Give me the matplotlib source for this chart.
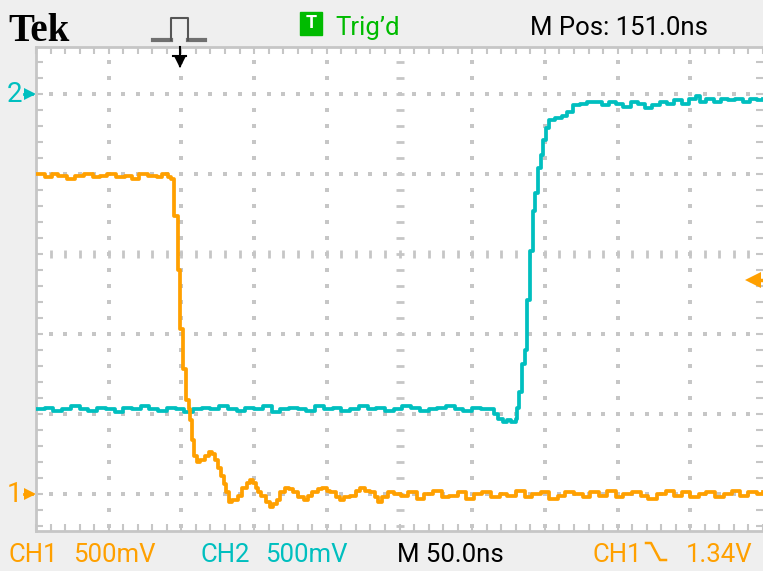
import numpy as np
import matplotlib
matplotlib.use("Agg")
import matplotlib.pyplot as plt
from matplotlib.patches import Rectangle
from matplotlib.lines import Line2D

# scope settings
time_per_div = 50.0   # ns / div
m_pos = 151.0         # ns at screen centre
ch1_scale = 0.5       # V / div
ch2_scale = 0.5
ch1_ground = -3.0     # div from centre line
ch2_ground = 2.0
trig_level = 1.34     # V, CH1 falling edge

# CH1 (orange), time in ns, volts
ch1_t = [-99, -93, -88, -84, -78, -72, -66, -60, -55, -50, -44, -38, -33, -28, -22, -16, -12, -8, -6,
         -4, -2, -1, 0, 2, 4, 6, 7, 8, 10,
         12, 14, 17, 20, 22, 24, 26, 28, 30, 32, 34, 36, 38, 40, 43, 46, 48, 50, 52, 54,
         56, 59, 62, 64, 67, 69, 72, 75, 78, 81, 85, 88, 91, 95, 98, 101, 103, 107, 110, 113,
         117, 121, 124, 127, 131, 134, 136, 139, 143, 147,
         152, 157, 163, 168, 174, 180, 185, 191, 197, 202, 208, 214, 220, 225, 231, 237, 242, 248, 254, 260,
         265, 271, 277, 282, 288, 294, 300, 305, 311, 317, 322, 328, 334, 340, 345, 351, 357, 362, 368, 374,
         380, 385, 391, 397, 401]
ch1_v = [2.00, 1.98, 2.00, 1.99, 1.97, 1.99, 2.00, 1.98, 1.99, 2.00, 1.98, 1.99, 1.97, 2.00, 1.99, 1.98, 2.00, 1.98, 1.97,
         1.74, 1.74, 1.40, 1.03, 0.78, 0.59, 0.53, 0.46, 0.34, 0.24,
         0.20, 0.21, 0.24, 0.26, 0.25, 0.21, 0.16, 0.11, 0.06, 0.01, -0.05, -0.04, -0.04, -0.01, 0.04, 0.07, 0.09, 0.07, 0.04, 0.01,
         -0.01, -0.05, -0.08, -0.06, -0.04, 0.01, 0.04, 0.03, 0.01, -0.02, -0.04, -0.01, 0.01, 0.03, 0.04, 0.02, 0.01, -0.02, -0.04, -0.02,
         -0.01, 0.02, 0.04, 0.02, 0.01, -0.02, -0.05, -0.02, 0.01, 0.00,
         -0.01, 0.01, -0.03, 0.00, 0.02, -0.02, -0.01, 0.01, -0.03, 0.00, 0.01, -0.02, 0.00, -0.01, 0.02, -0.02, 0.00, 0.01, -0.03, -0.01,
         0.01, 0.00, -0.02, 0.01, -0.01, 0.02, -0.02, 0.00, 0.01, -0.01, -0.03, 0.00, 0.02, -0.01, 0.01, -0.02, 0.00, 0.01, -0.02, 0.00,
         0.02, -0.01, 0.01, 0.00, 0.01]

# CH2 (cyan)
ch2_t = [-99, -93, -87, -81, -75, -69, -63, -57, -51, -45, -39, -33, -27, -21, -15, -9, -3, 3, 9, 15,
         21, 27, 33, 39, 45, 51, 57, 63, 69, 75, 81, 87, 93, 99, 105, 111, 117, 123, 129, 135,
         141, 147, 153, 159, 165, 171, 177, 183, 189, 195, 201, 207, 213,
         216, 219, 222, 225, 228, 231,
         232, 233, 235, 237, 239, 241, 243, 244, 246, 248, 250, 252, 254, 258, 263, 266, 270, 275, 280,
         285, 290, 295, 300, 305, 310, 315, 320, 325, 330, 335, 340, 345, 350, 355, 358, 362, 367, 372, 377,
         382, 387, 392, 397, 401]
ch2_v = [-1.97, -1.96, -1.98, -1.97, -1.95, -1.97, -1.98, -1.96, -1.97, -1.99,
         -1.96, -1.97, -1.95, -1.97, -1.98, -1.96, -1.97, -1.99, -1.97, -1.96,
         -1.97, -1.95, -1.97, -1.98, -1.96, -1.97, -1.95, -1.99, -1.97, -1.96,
         -1.97, -1.98, -1.95, -1.97, -1.96, -1.98, -1.97, -1.95, -1.97, -1.96,
         -1.98, -1.97, -1.95, -1.96, -1.98, -1.97, -1.96, -1.95, -1.97, -1.98,
         -1.96, -1.97, -1.97,
         -2.00, -2.03, -2.05, -2.04, -2.05, -2.03,
         -1.96, -1.86, -1.69, -1.60, -1.29, -0.98, -0.73, -0.62, -0.46, -0.38, -0.29, -0.21, -0.16, -0.15, -0.14, -0.11, -0.07, -0.06, -0.05,
         -0.05, -0.07, -0.05, -0.06, -0.08, -0.05, -0.06, -0.09, -0.07, -0.05, -0.06, -0.04, -0.06, -0.03, -0.01, -0.05, -0.03, -0.05, -0.03, -0.04,
         -0.03, -0.05, -0.03, -0.04, -0.03]

ORANGE = "#ffa000"
CYAN = "#00bfbf"
GREEN = "#00bb00"
GRID = "#c6c6c6"
PANEL = "#efefef"
FONT = ["Roboto", "DejaVu Sans"]
FS = 18.5

W, H = 763, 571


def fx(px):
    return px / W


def fy(py):
    return 1 - py / H


def t_to_div(t):
    return (np.asarray(t) - (m_pos - 5 * time_per_div)) / time_per_div


fig = plt.figure(figsize=(W / 100, H / 100), dpi=100, facecolor=PANEL)
ax = fig.add_axes([fx(36), fy(531), fx(763) - fx(36), fy(47) - fy(531)])
ax.set_facecolor("white")
ax.set_xlim(0, 10)
ax.set_ylim(-3.4625, 2.5875)

# border ticks every 0.2 div
ax.set_xticks(np.round(np.arange(0, 51) * 0.2, 1))
ax.set_yticks(np.round(np.arange(-17, 13) * 0.2, 1))
ax.tick_params(axis="both", which="both", direction="in", length=5, width=1.5, color=GRID,
               top=True, right=True, labelbottom=False, labelleft=False)
for s in ["left", "top", "bottom"]:
    ax.spines[s].set_color(GRID)
    ax.spines[s].set_linewidth(2)
ax.spines["right"].set_visible(False)

# dotted graticule
xs = np.round(np.arange(1, 50) * 0.2, 1)
ys = np.round(np.arange(-17, 13) * 0.2, 1)
for r in [-3, -2, -1, 1, 2]:
    ax.plot(xs, np.full(len(xs), r), ls="none", marker="s", ms=2.2, mew=0, color=GRID)
for c in [1, 2, 3, 4, 6, 7, 8, 9]:
    ax.plot(np.full(len(ys), c), ys, ls="none", marker="s", ms=2.2, mew=0, color=GRID)
ax.plot(np.full(len(ys), 5), ys, ls="none", marker="_", ms=6, mew=2, color=GRID)
ax.plot(xs, np.zeros(len(xs)), ls="none", marker="|", ms=6, mew=2, color=GRID)

# traces
ax.plot(t_to_div(ch2_t), np.asarray(ch2_v) / ch2_scale + ch2_ground, color=CYAN, lw=2.7,
        drawstyle="steps-post", zorder=5)
ax.plot(t_to_div(ch1_t), np.asarray(ch1_v) / ch1_scale + ch1_ground, color=ORANGE, lw=2.7,
        drawstyle="steps-post", zorder=6)

# ground markers on the left
for lvl, col, name in [(ch2_ground, CYAN, "2"), (ch1_ground, ORANGE, "1")]:
    ax.plot([-0.17, -0.06], [lvl, lvl], color=col, lw=2, clip_on=False)
    ax.plot([-0.08], [lvl], marker=">", ms=8, color=col, mew=0, clip_on=False)
    ax.text(-0.19, lvl, name, ha="right", va="center", color=col, fontsize=20, family=FONT)

# trigger level marker on the right
tl = trig_level / ch1_scale + ch1_ground
ax.plot([9.84, 10.0], [tl, tl], color=ORANGE, lw=2.5, clip_on=False, zorder=7)
ax.plot([9.86], [tl], marker="<", ms=11, color=ORANGE, mew=0, clip_on=False, zorder=7)

# trigger position marker on the top
tp = t_to_div(0.0)
ax.plot([tp, tp], [2.5875, 2.35], color="black", lw=1.5, clip_on=False, zorder=7)
ax.plot([tp - 0.09, tp + 0.09], [2.47, 2.47], color="black", lw=1.5, clip_on=False, zorder=7)
ax.plot([tp], [2.4], marker="v", ms=9, color="black", mew=0, clip_on=False, zorder=7)

# header
fig.text(fx(8), fy(41), "Tek", family="Liberation Serif", weight="bold", fontsize=28, color="black")
base = [(153, 40), (171, 40)], [(188, 40), (205, 40)]
for seg in base:
    fig.add_artist(Line2D([fx(p[0]) for p in seg], [fy(p[1]) for p in seg], color="#707070", lw=3))
pulse = [(171, 40), (171, 18), (188, 18), (188, 40)]
fig.add_artist(Line2D([fx(p[0]) for p in pulse], [fy(p[1]) for p in pulse], color="#555555", lw=1.5))
fig.add_artist(Rectangle((fx(300), fy(35)), fx(22), 23 / H, color="#00bb00", transform=fig.transFigure))
fig.text(fx(311), fy(23.5), "T", ha="center", va="center", color="white", weight="bold",
         fontsize=13, family=FONT)
fig.text(fx(335), fy(35), "Trig\u2019d", color=GREEN, fontsize=FS, family=FONT)
fig.text(fx(530), fy(35), "M Pos: 151.0ns", color="black", fontsize=FS, family=FONT)

# footer
fy_base = fy(562)
fig.text(fx(8), fy_base, "CH1", color=ORANGE, fontsize=FS, family=FONT)
fig.text(fx(73), fy_base, "500mV", color=ORANGE, fontsize=FS, family=FONT)
fig.text(fx(200), fy_base, "CH2", color=CYAN, fontsize=FS, family=FONT)
fig.text(fx(265), fy_base, "500mV", color=CYAN, fontsize=FS, family=FONT)
fig.text(fx(397), fy_base, "M 50.0ns", color="black", fontsize=FS, family=FONT)
fig.text(fx(592), fy_base, "CH1", color=ORANGE, fontsize=FS, family=FONT)
slope = [(646, 543), (651, 543), (660, 560), (666, 560)]
fig.add_artist(Line2D([fx(p[0]) for p in slope], [fy(p[1]) for p in slope], color=ORANGE, lw=1.8))
fig.text(fx(752), fy_base, "1.34V", ha="right", color=ORANGE, fontsize=FS, family=FONT)

fig.savefig("out.png", dpi=100, facecolor=PANEL)
